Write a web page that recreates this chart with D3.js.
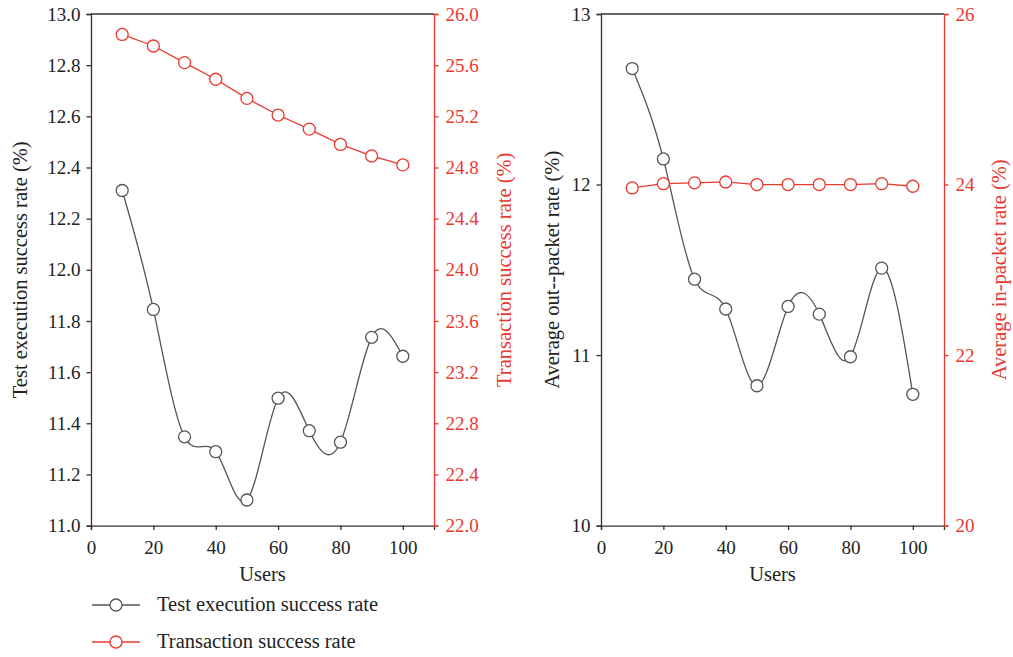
<!DOCTYPE html>
<html>
<head>
<meta charset="utf-8">
<script src="https://cdn.jsdelivr.net/npm/d3@7"></script>
<style>
  body { margin: 0; background: #fff; }
  text { font-family: "Liberation Serif", "DejaVu Serif", serif; }
</style>
</head>
<body>
<div id="chart"></div>
<script>
var users = [10, 20, 30, 40, 50, 60, 70, 80, 90, 100];

// left panel
var testExecRate = [12.31, 11.845, 11.347, 11.289, 11.10, 11.498, 11.371, 11.326, 11.736, 11.662];
var transactionRate = [25.84, 25.75, 25.62, 25.49, 25.34, 25.21, 25.10, 24.98, 24.89, 24.82];

// right panel
var outPacketRate = [12.68, 12.15, 11.445, 11.27, 10.82, 11.285, 11.24, 10.99, 11.51, 10.77];
var inPacketRate = [23.96, 24.01, 24.02, 24.03, 24.00, 24.00, 24.00, 24.00, 24.01, 23.98];

var xTicks = [0, 20, 40, 60, 80, 100];

var black = "#333",
  gray = "#555",
  red = "#e8392f";

var svg = d3
  .select("#chart")
  .append("svg")
  .attr("width", 1013)
  .attr("height", 657);

function panel(opt) {
  var left = opt.left, right = opt.right, top = 14, bottom = 525.6;

  var x = d3.scaleLinear().domain([0, 110]).range([left, right]);
  var yL = d3.scaleLinear().domain(opt.yLDomain).range([bottom, top]);
  var yR = d3.scaleLinear().domain(opt.yRDomain).range([bottom, top]);

  var g = svg.append("g");

  // top frame line
  g.append("line")
    .attr("x1", left).attr("x2", right)
    .attr("y1", top).attr("y2", top)
    .attr("stroke", black).attr("stroke-width", 1.3);

  // minor ticks
  function minor(axis, scale, ticks) {
    return axis(scale).tickValues(ticks).tickSize(2.5).tickFormat("");
  }

  var gx = g.append("g").attr("transform", "translate(0," + bottom + ")");
  gx.call(minor(d3.axisBottom, x, d3.range(10, 110, 20)));
  gx.call(d3.axisBottom(x).tickValues(xTicks).tickSize(4.5).tickPadding(10).tickFormat(d3.format("d")));

  var gl = g.append("g").attr("transform", "translate(" + left + ",0)");
  gl.call(minor(d3.axisLeft, yL, opt.yLMinor));
  gl.call(d3.axisLeft(yL).tickValues(opt.yLTicks).tickSize(4.5).tickPadding(6).tickFormat(opt.fmtL));

  var gr = g.append("g").attr("transform", "translate(" + right + ",0)");
  gr.call(minor(d3.axisRight, yR, opt.yRMinor));
  gr.call(d3.axisRight(yR).tickValues(opt.yRTicks).tickSize(4.5).tickPadding(7).tickFormat(opt.fmtR));

  [gx, gl].forEach(function(a) {
    a.selectAll("path, line").attr("stroke", black).attr("stroke-width", 1.3);
    a.selectAll("text").attr("fill", "#222").style("font-size", "19px");
  });
  gr.selectAll("path, line").attr("stroke", red).attr("stroke-width", 1.3);
  gr.selectAll("text").attr("fill", red).style("font-size", "19px");

  // axis titles
  var mid = (top + bottom) / 2;
  g.append("text")
    .attr("x", (left + right) / 2).attr("y", 581)
    .attr("text-anchor", "middle")
    .style("font-size", "20.5px").attr("fill", "#222")
    .text("Users");

  g.append("text")
    .attr("transform", "translate(" + opt.titleLX + "," + mid + ") rotate(-90)")
    .attr("text-anchor", "middle")
    .style("font-size", "20.5px").attr("fill", "#222")
    .text(opt.titleL);

  g.append("text")
    .attr("transform", "translate(" + opt.titleRX + "," + mid + ") rotate(-90)")
    .attr("text-anchor", "middle")
    .style("font-size", "20.5px").attr("fill", red)
    .text(opt.titleR);

  // red series
  var lineR = d3.line()
    .x(function(d, i) { return x(users[i]); })
    .y(function(d) { return yR(d); });
  g.append("path")
    .datum(opt.seriesR)
    .attr("d", lineR)
    .attr("fill", "none").attr("stroke", red).attr("stroke-width", 1.3);

  // black series (spline)
  var lineL = d3.line()
    .curve(d3.curveNatural)
    .x(function(d, i) { return x(users[i]); })
    .y(function(d) { return yL(d); });
  g.append("path")
    .datum(opt.seriesL)
    .attr("d", lineL)
    .attr("fill", "none").attr("stroke", gray).attr("stroke-width", 1.3);

  g.selectAll(".mR")
    .data(opt.seriesR)
    .enter().append("circle")
    .attr("cx", function(d, i) { return x(users[i]); })
    .attr("cy", function(d) { return yR(d); })
    .attr("r", 6)
    .attr("fill", "#fff").attr("stroke", red).attr("stroke-width", 1.3);

  g.selectAll(".mL")
    .data(opt.seriesL)
    .enter().append("circle")
    .attr("cx", function(d, i) { return x(users[i]); })
    .attr("cy", function(d) { return yL(d); })
    .attr("r", 6)
    .attr("fill", "#fff").attr("stroke", gray).attr("stroke-width", 1.3);
}

panel({
  left: 91, right: 434,
  yLDomain: [11, 13], yRDomain: [22, 26],
  yLTicks: d3.range(11, 13.01, 0.2), yLMinor: d3.range(11.1, 13, 0.2),
  yRTicks: d3.range(22, 26.01, 0.4), yRMinor: d3.range(22.2, 26, 0.4),
  fmtL: d3.format(".1f"), fmtR: d3.format(".1f"),
  seriesL: testExecRate, seriesR: transactionRate,
  titleL: "Test execution success rate (%)", titleLX: 27,
  titleR: "Transaction success rate (%)", titleRX: 511
});

panel({
  left: 601, right: 944,
  yLDomain: [10, 13], yRDomain: [20, 26],
  yLTicks: [10, 11, 12, 13], yLMinor: [10.5, 11.5, 12.5],
  yRTicks: [20, 22, 24, 26], yRMinor: [21, 23, 25],
  fmtL: d3.format("d"), fmtR: d3.format("d"),
  seriesL: outPacketRate, seriesR: inPacketRate,
  titleL: "Average out--packet rate (%)", titleLX: 559,
  titleR: "Average in-packet rate (%)", titleRX: 1006
});

// legend
var legendItems = ["Test execution success rate", "Transaction success rate"];
var legendColors = [gray, red];
var legend = svg.append("g");
legendItems.forEach(function(name, i) {
  var yy = 605 + i * 37;
  legend.append("line")
    .attr("x1", 92).attr("x2", 140).attr("y1", yy).attr("y2", yy)
    .attr("stroke", legendColors[i]).attr("stroke-width", 1.3);
  legend.append("circle")
    .attr("cx", 116).attr("cy", yy).attr("r", 6)
    .attr("fill", "#fff").attr("stroke", legendColors[i]).attr("stroke-width", 1.3);
  legend.append("text")
    .attr("x", 157).attr("y", yy + 6)
    .style("font-size", "20.5px").attr("fill", "#222")
    .text(name);
});
</script>
</body>
</html>
